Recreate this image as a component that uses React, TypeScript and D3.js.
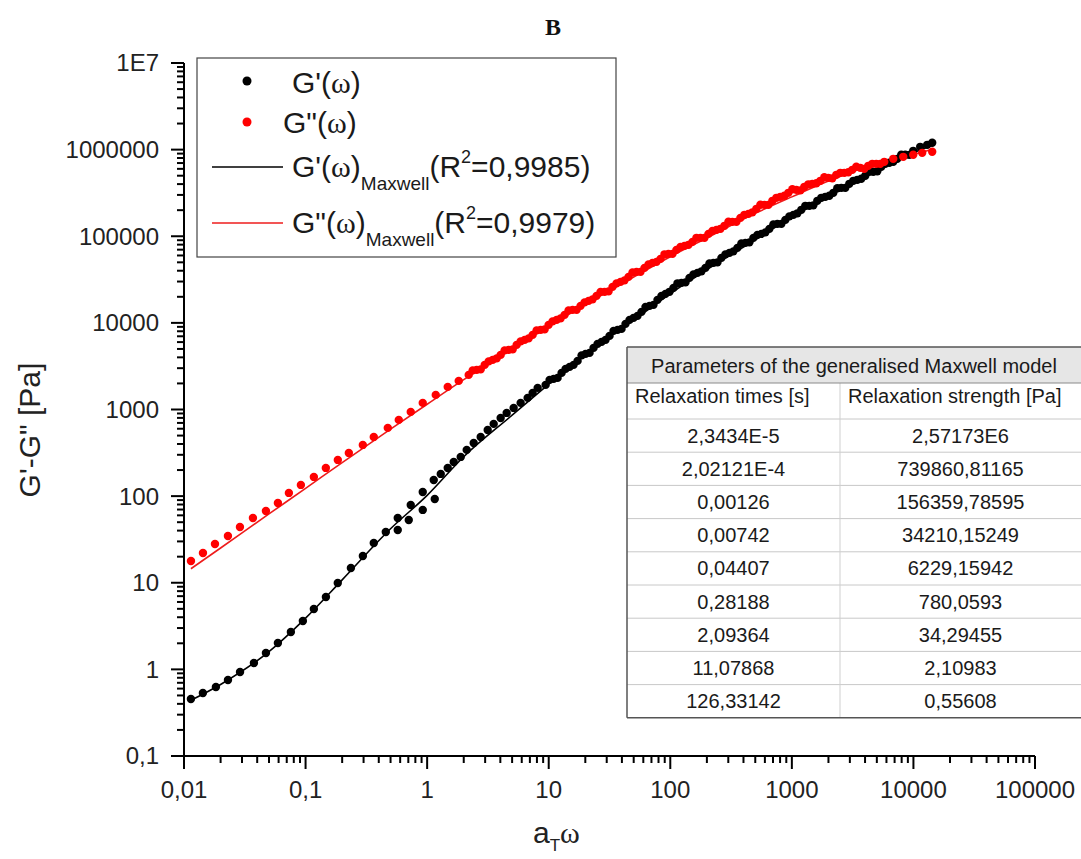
import React from "react";
import * as d3 from "d3";

// ---------- axis ticks ----------
const xTickValues = [0.01, 0.1, 1, 10, 100, 1000, 10000, 100000];
const xTickLabels = ["0,01", "0,1", "1", "10", "100", "1000", "10000", "100000"];
const yTickValues = [0.1, 1, 10, 100, 1000, 10000, 100000, 1000000, 10000000];
const yTickLabels = ["0,1", "1", "10", "100", "1000", "10000", "100000", "1000000", "1E7"];

// ---------- G'(ω) measured (black dots) ----------
const storageX = [
  0.0114, 0.0143, 0.0183, 0.023, 0.0289, 0.0376, 0.0472, 0.0592, 0.0757, 0.095,
  0.117, 0.147, 0.184, 0.236, 0.296, 0.364, 0.457, 0.573, 0.733, 0.92,
  1.133, 1.477, 1.889, 2.415, 3.148, 4.025, 5.147, 6.708, 8.11,
  0.573, 0.706, 0.92, 1.155,
  1.294, 1.654, 2.116, 2.757, 3.526, 4.51, 5.876, 7.374,
  9.43, 10.97, 12.76, 14.85, 17.28, 20.1, 23.38, 27.21, 31.65, 36.82,
  42.84, 49.84, 57.99, 67.47, 78.49, 91.3, 106.2, 123.6, 143.8, 167.3,
  194.6, 226.5, 263.5, 306.5, 356.6, 414.9, 482.7, 561.6, 653.3, 760.2,
  884.4, 1029, 1197, 1392, 1620, 1885, 2193, 2551, 2969, 3453,
  4017, 4674, 5438, 6326, 7361, 8563, 9963, 11370, 12980, 14270,
  10.17, 11.83, 13.77, 16.02, 18.64, 21.68, 25.22, 29.35, 34.14, 39.72,
  46.21, 53.76, 62.55, 72.77, 84.65, 98.5, 114.6, 133.3, 155.1, 180.4,
  210, 244.3, 284.2, 330.6, 384.6, 447.5, 520.7, 605.7, 704.7, 820,
  954, 1110, 1291, 1502, 1747, 2033, 2365, 2752, 3202, 3724,
  4333, 5042, 5865, 6824, 7939, 9237,
];
const storageY = [
  0.455, 0.534, 0.626, 0.754, 0.933, 1.186, 1.546, 2.017, 2.703, 3.62,
  4.98, 6.85, 9.95, 14.8, 20.4, 28.8, 38.6, 56.0, 79.1, 111.8,
  153.8, 211.6, 283.5, 411.4, 581, 799, 1043, 1361, 1776,
  40.7, 53.1, 69.3, 92.8,
  180.5, 248.3, 341.7, 482.6, 681.9, 913, 1192, 1555,
  1924, 2256, 2647, 3104, 3641, 4385, 5143, 6034, 7078, 8303,
  9739, 11420, 13400, 15720, 18440, 21630, 25370, 28960, 33070, 37770,
  43160, 49280, 56290, 64290, 73450, 83870, 95830, 106600, 121700, 139000,
  154600, 176600, 201800, 224400, 256300, 285100, 317100, 362200, 402800, 448000,
  498300, 554100, 633000, 704100, 783000, 871000, 968500, 1077000, 1136000, 1200000,
  2198, 2317, 2943, 3275, 4216, 4502, 5721, 6365, 8088, 8525,
  10830, 12050, 15310, 16140, 20510, 22820, 28600, 29340, 36300, 39330,
  48650, 49930, 61780, 66930, 82800, 84990, 103800, 110900, 137200, 139000,
  169700, 183900, 224500, 227400, 277600, 292900, 357500, 362100, 436300, 460200,
  554400, 561400, 685600, 723200, 871200, 870600,
];

// ---------- G''(ω) measured (red dots) ----------
const lossX = [
  0.01141, 0.01432, 0.01798, 0.02298, 0.02885, 0.0369, 0.0472, 0.0592, 0.0729, 0.0915,
  0.117, 0.1468, 0.1842, 0.2269, 0.2957, 0.364, 0.4746, 0.5843, 0.733, 0.92,
  1.177, 1.477, 1.819,
  2.197, 2.556, 2.974, 3.459, 4.025, 4.682, 5.447, 6.339, 7.374, 8.579,
  9.98, 11.61, 13.51, 15.72, 18.29, 21.28, 24.75, 28.8, 33.5, 38.97,
  45.34, 52.77, 61.38, 71.41, 83.1, 96.6, 112.4, 130.8, 152.2, 177.1,
  206.0, 239.7, 278.9, 324.4, 377.5, 439.1, 510.9, 594.3, 691.5, 804.6,
  936, 1089, 1267, 1474, 1715, 1995, 2322, 2701, 3142, 3656,
  4253, 4948, 5756, 6823, 8245, 9963, 11810, 14270,
  2.37, 2.757, 3.208, 3.731, 4.341, 5.05, 5.876, 6.837, 7.954, 9.253,
  10.76, 12.52, 14.57, 16.96, 19.73, 22.95, 26.7, 31.06, 36.13, 42.04,
  48.91, 56.91, 66.21, 77.03, 89.6, 104.2, 121.3, 141.1, 164.2, 191.0,
  222.2, 258.6, 300.8, 349.9, 407.1, 473.6, 551.0, 641.1, 745.9, 867.8,
  1010, 1175, 1367, 1590, 1850, 2152, 2504, 2913, 3389, 3943,
  4587, 5337,
];
const lossY = [
  17.85, 22.09, 28.05, 34.71, 44.09, 56.0, 67.45, 83.45, 108.9, 134.7,
  166.6, 211.7, 261.8, 315.4, 390.1, 482.6, 613.1, 758.4, 938.3, 1192,
  1475, 1824, 2139,
  2510, 2866, 3273, 3739, 4270, 4878, 5570, 6364, 7267, 8303,
  9483, 10830, 12370, 14130, 15720, 17950, 20500, 22800, 26040, 29750,
  33980, 38810, 43160, 49280, 54830, 62630, 69660, 77480, 86150, 95830,
  106600, 118500, 131900, 146700, 163100, 181400, 207200, 230500, 256300, 285100,
  317100, 343300, 371900, 402800, 436200, 472500, 511700, 539600, 584500, 616200,
  650000, 685500, 722900, 783000, 825800, 871000, 918400, 943200,
  2830, 2904, 3592, 3892, 4815, 4942, 6115, 6623, 8195, 8413,
  10410, 11270, 13950, 14130, 17250, 18680, 22810, 23100, 28590, 30970,
  38310, 38800, 47360, 50630, 61820, 62620, 75450, 79580, 95860, 95820,
  115400, 121800, 146800, 146600, 176700, 188800, 230600, 230400, 277600, 292900,
  348100, 338700, 397500, 408300, 479000, 466100, 539700, 547000, 633100, 600000,
  685500, 685600,
];

// ---------- Maxwell fit lines ----------
const fitX = [0.0114, 0.02, 0.05, 0.1, 0.2, 0.5, 1, 2, 5, 10, 20, 50, 100, 200, 500, 1000, 2000, 5000, 10000, 14270];
const fitStorageY = [0.44, 0.67, 1.6, 3.9, 10.8, 42, 102, 285, 860, 1960, 4370, 10800, 21700, 41100, 91200, 167000, 286000, 602000, 925000, 1120000];
const fitLossY = [14.5, 25.2, 62.3, 123, 244, 593, 1150, 2210, 4980, 9140, 16300, 33900, 58100, 95500, 183600, 284700, 433300, 692300, 878100, 1010000];

// ---------- table ----------
const tableTitle = "Parameters of the generalised Maxwell model";
const tableHeaders = ["Relaxation times [s]", "Relaxation strength [Pa]"];
const relaxationTimes = ["2,3434E-5", "2,02121E-4", "0,00126", "0,00742", "0,04407", "0,28188", "2,09364", "11,07868", "126,33142"];
const relaxationStrengths = ["2,57173E6", "739860,81165", "156359,78595", "34210,15249", "6229,15942", "780,0593", "34,29455", "2,10983", "0,55608"];

const SANS = "'Liberation Sans', Arial, Helvetica, sans-serif";
const SERIF = "'Liberation Serif', 'Times New Roman', serif";

export default function App() {
  const W = 1081;
  const H = 859;
  const x = d3.scaleLog().domain([0.01, 100000]).range([184, 1035]);
  const y = d3.scaleLog().domain([0.1, 1e7]).range([756, 63]);

  const minorX: number[] = [];
  xTickValues.slice(0, -1).forEach((d) => { for (let k = 2; k <= 9; k++) minorX.push(d * k); });
  const minorY: number[] = [];
  yTickValues.slice(0, -1).forEach((d) => { for (let k = 2; k <= 9; k++) minorY.push(d * k); });

  const line = d3.line<[number, number]>().x((d) => x(d[0])).y((d) => y(d[1])).curve(d3.curveMonotoneX);
  const storageFit = line(fitX.map((v, i) => [v, fitStorageY[i]] as [number, number])) || "";
  const lossFit = line(fitX.map((v, i) => [v, fitLossY[i]] as [number, number])) || "";

  // table geometry
  const tL = 627, tR = 1081, tTop = 347, h1 = 383, h2 = 419, rowH = 33.2, colDiv = 840;
  const tBottom = h2 + rowH * relaxationTimes.length;

  return (
    <svg width={W} height={H} style={{ position: "absolute", left: 0, top: 0, background: "#fff" }} fontFamily={SANS}>
      <rect x={0} y={0} width={W} height={H} fill="#fff" />
      {/* title */}
      <text x={553} y={35} textAnchor="middle" fontFamily={SERIF} fontWeight="bold" fontSize={24} fill="#111">B</text>

      {/* fit lines */}
      <path d={storageFit} fill="none" stroke="#000" strokeWidth={1.6} />
      <path d={lossFit} fill="none" stroke="#ee1c1c" strokeWidth={1.6} />

      {/* dots */}
      {storageX.map((v, i) => (
        <circle key={"s" + i} cx={x(v)} cy={y(storageY[i])} r={4.2} fill="#000" />
      ))}
      {lossX.map((v, i) => (
        <circle key={"l" + i} cx={x(v)} cy={y(lossY[i])} r={4.2} fill="#ff0000" />
      ))}

      {/* axes */}
      <line x1={x(0.01)} x2={x(100000)} y1={756} y2={756} stroke="#000" strokeWidth={2} />
      <line x1={184} x2={184} y1={y(1e7)} y2={757} stroke="#000" strokeWidth={2} />
      {xTickValues.map((v, i) => (
        <g key={"xt" + i}>
          <line x1={x(v)} x2={x(v)} y1={756} y2={769} stroke="#000" strokeWidth={2} />
          <text x={x(v)} y={798} textAnchor="middle" fontSize={24} fill="#222">{xTickLabels[i]}</text>
        </g>
      ))}
      {minorX.map((v, i) => (
        <line key={"xm" + i} x1={x(v)} x2={x(v)} y1={756} y2={763} stroke="#000" strokeWidth={2} />
      ))}
      {yTickValues.map((v, i) => (
        <g key={"yt" + i}>
          <line x1={171} x2={184} y1={y(v)} y2={y(v)} stroke="#000" strokeWidth={2} />
          <text x={159} y={y(v)} dy="0.35em" textAnchor="end" fontSize={24} fill="#222">{yTickLabels[i]}</text>
        </g>
      ))}
      {minorY.map((v, i) => (
        <line key={"ym" + i} x1={177} x2={184} y1={y(v)} y2={y(v)} stroke="#000" strokeWidth={2} />
      ))}

      {/* axis titles */}
      <text transform="translate(29,430) rotate(-90)" textAnchor="middle" dy="0.35em" fontSize={30} fill="#222">
        G'-G" [Pa]
      </text>
      <text x={533} y={843} fontSize={30} fill="#222">
        a<tspan fontSize={17} dy={8}>T</tspan><tspan dy={-8} fontFamily={SERIF} fontSize={30}>ω</tspan>
      </text>

      {/* legend */}
      <rect x={197} y={58} width={419} height={199} fill="#fff" stroke="#444" strokeWidth={1.2} />
      <circle cx={247} cy={81} r={4.5} fill="#000" />
      <text x={292} y={93} fontSize={30} fill="#1a1a1a">G'(<tspan fontFamily={SERIF}>ω</tspan>)</text>
      <circle cx={247} cy={122} r={4.5} fill="#ff0000" />
      <text x={283} y={133} fontSize={30} fill="#1a1a1a">G"(<tspan fontFamily={SERIF}>ω</tspan>)</text>
      <line x1={212} x2={283} y1={167} y2={167} stroke="#000" strokeWidth={1.6} />
      <text x={292} y={177} fontSize={30} fill="#1a1a1a">
        G'(<tspan fontFamily={SERIF}>ω</tspan>)
        <tspan fontSize={19} dy={13}>Maxwell</tspan>
        <tspan dy={-13}>(R</tspan>
        <tspan fontSize={18} dy={-14}>2</tspan>
        <tspan dy={14}>=0,9985)</tspan>
      </text>
      <line x1={212} x2={283} y1={223} y2={223} stroke="#ee1c1c" strokeWidth={1.6} />
      <text x={292} y={233} fontSize={30} fill="#1a1a1a">
        G"(<tspan fontFamily={SERIF}>ω</tspan>)
        <tspan fontSize={19} dy={13}>Maxwell</tspan>
        <tspan dy={-13}>(R</tspan>
        <tspan fontSize={18} dy={-14}>2</tspan>
        <tspan dy={14}>=0,9979)</tspan>
      </text>

      {/* table */}
      <rect x={tL} y={tTop} width={tR - tL + 4} height={h1 - tTop} fill="#e6e6e6" />
      <rect x={tL} y={h1} width={tR - tL + 4} height={tBottom - h1} fill="#fff" />
      {relaxationTimes.map((_, i) => (
        <line key={"rl" + i} x1={tL} x2={tR} y1={h2 + rowH * i} y2={h2 + rowH * i} stroke="#c8c8c8" strokeWidth={1} />
      ))}
      <line x1={colDiv} x2={colDiv} y1={h1} y2={tBottom} stroke="#cfcfcf" strokeWidth={1} />
      <line x1={tL} x2={tR} y1={h1} y2={h1} stroke="#8a8a8a" strokeWidth={1} />
      <line x1={tL} x2={tR + 4} y1={tTop} y2={tTop} stroke="#555" strokeWidth={1.5} />
      <line x1={tL} x2={tR + 4} y1={tBottom} y2={tBottom} stroke="#555" strokeWidth={1.5} />
      <line x1={tL} x2={tL} y1={tTop} y2={tBottom} stroke="#555" strokeWidth={1.5} />
      <text x={(tL + tR) / 2} y={373} textAnchor="middle" fontSize={20} fill="#1a1a1a">{tableTitle}</text>
      <text x={635} y={403} fontSize={20} fill="#1a1a1a">{tableHeaders[0]}</text>
      <text x={848} y={403} fontSize={20} fill="#1a1a1a">{tableHeaders[1]}</text>
      {relaxationTimes.map((t, i) => (
        <g key={"row" + i}>
          <text x={(tL + colDiv) / 2} y={h2 + rowH * i + rowH / 2 + 7} textAnchor="middle" fontSize={20} fill="#1a1a1a">{t}</text>
          <text x={(colDiv + tR) / 2} y={h2 + rowH * i + rowH / 2 + 7} textAnchor="middle" fontSize={20} fill="#1a1a1a">{relaxationStrengths[i]}</text>
        </g>
      ))}
    </svg>
  );
}
